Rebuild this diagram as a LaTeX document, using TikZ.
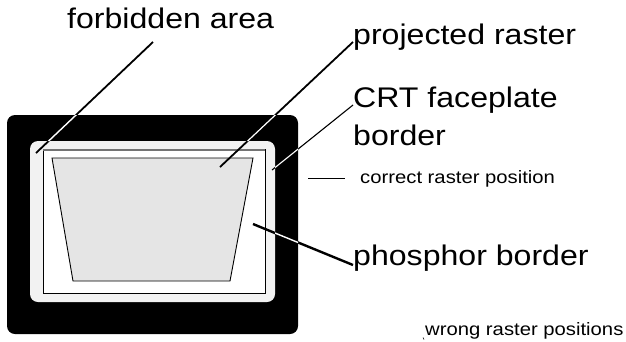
\documentclass[tikz,border=0pt]{standalone}
\usepackage{fontspec}
\newfontfamily\lab[FakeStretch=1.13]{Liberation Sans}
\begin{document}
\begin{tikzpicture}[x=1bp,y=-1bp,
  big/.style={font=\lab\fontsize{28.5}{32}\selectfont, inner sep=0pt, anchor=base west},
  small/.style={font=\lab\fontsize{18}{21}\selectfont, inner sep=0pt, anchor=base west},
  leader/.style={draw=black, line width=1.8bp},
  thinleader/.style={draw=black, line width=1.1bp}]
\useasboundingbox (0,0) rectangle (626,341);
% screen
\fill[black, rounded corners=8bp] (7,115) rectangle (298,334);
\fill[black!5, rounded corners=8bp] (30,141) rectangle (275,302);
\draw[fill=white, line width=0.9bp] (43.3,149.5) rectangle (265,293.3);
\draw[black!55, line width=2bp] (43.3,149.5) -- (265,149.5);
\draw[fill=black!10, line width=0.9bp] (52,158) -- (253,158) -- (230,281) -- (73,281) -- cycle;
% labels
\node[big] (fa) at (67,28) {forbidden area};
\node[big] (pr) at (353,44) {projected raster};
\node[big] (crt) at (353,107) {CRT faceplate};
\node[big] (crt2) at (353,145) {border};
\node[big] (pb) at (353,265) {phosphor border};
\node[small] (crp) at (360,183) {correct raster position};
\node[small] (wrp) at (425,335) {wrong raster positions};
% leader end points
\coordinate (faA) at (153,42);  \coordinate (faB) at (36,153);
\coordinate (prA) at (353,42);  \coordinate (prB) at (220,167);
\coordinate (crA) at (353,105); \coordinate (crB) at (272,170);
\coordinate (pbA) at (353,265); \coordinate (pbB) at (253,224);
\coordinate (cpA) at (308,178); \coordinate (cpB) at (345,178);
\coordinate (wmA) at (423,337.5); \coordinate (wmB) at (424,339.5);
\draw[leader] (faA) -- (faB);
\draw[leader] (prA) -- (prB);
\draw[thinleader] (crA) -- (crB);
\draw[leader, line width=2.4bp] (pbA) -- (pbB);
\draw[line width=0.8bp] (cpA) -- (cpB);
\draw[line width=0.6bp] (wmA) -- (wmB);
% white where the leaders cross the black frame
\begin{scope}[even odd rule, rounded corners=8bp]
\clip (7,115) rectangle (298,334) (30,141) rectangle (275,302);
\draw[white, line width=1.4bp, sharp corners] (faA) -- (faB);
\draw[white, line width=1.2bp, sharp corners] (prA) -- (prB);
\draw[white, line width=1.1bp, sharp corners] (crA) -- (crB);
\draw[white, line width=1.4bp, sharp corners] (pbA) -- (pbB);
\end{scope}
\end{tikzpicture}
\end{document}
